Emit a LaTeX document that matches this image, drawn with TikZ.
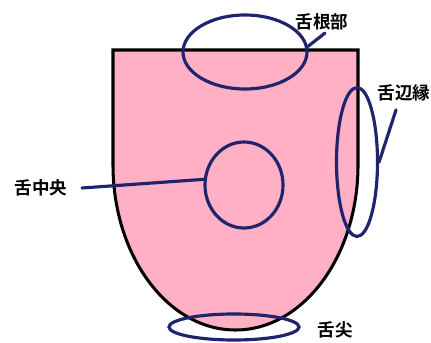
\documentclass[tikz,border=0pt]{standalone}
\usepackage{fontspec}
\newfontfamily\cjk{Noto Sans CJK JP Bold}
\usetikzlibrary{shapes.geometric}
\definecolor{tonguepink}{RGB}{255,176,196}
\definecolor{navy}{RGB}{30,36,110}
\tikzstyle{ring}=[ellipse,draw=navy,line width=2.7pt,inner sep=0pt]
\tikzstyle{lbl}=[font=\cjk\fontsize{15}{18}\selectfont,inner sep=0pt]

\begin{document}
\begin{tikzpicture}[x=0.03cm,y=0.03cm]
\useasboundingbox (0,0) rectangle (431,342);
% tongue outline
\draw[fill=tonguepink,line width=2.6pt] (113,292) -- (358,292) -- (358,177)
  arc[start angle=0,end angle=-180,x radius=122.5,y radius=165] -- cycle;
\node[ring,minimum width=3.72cm,minimum height=2.22cm] (T) at (245,290) {};
\node[ring,minimum width=1.23cm,minimum height=4.47cm] (R) at (357,180) {};
\node[ring,minimum width=2.34cm,minimum height=2.58cm] (M) at (244,157) {};
\node[ring,minimum width=3.9cm,minimum height=0.78cm] (B) at (234,15) {};
\node[lbl] (a) at (322,320) {舌根部};
\node[lbl] (b) at (404,249) {舌辺縁};
\node[lbl] (c) at (41,154) {舌中央};
\node[lbl] (d) at (335,12) {舌尖};
\coordinate (a1) at (325,309);
\coordinate (b1) at (396,232);
\coordinate (c1) at (82,154);
\path[draw=navy,line width=2.7pt,line cap=round]
(T.5) edge (a1)
(R.east) edge (b1)
(M.172) edge (c1);
\end{tikzpicture}
\end{document}
